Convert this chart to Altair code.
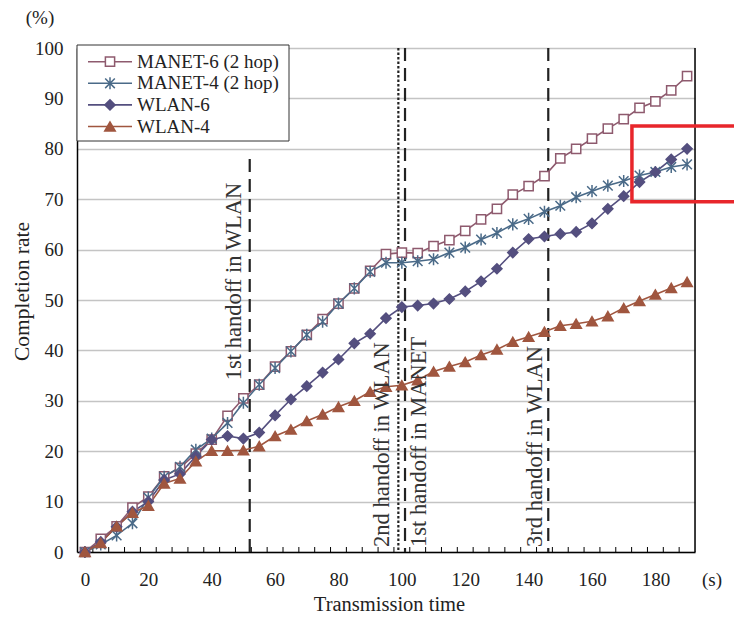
import altair as alt
import pandas as pd

# ---------------- data ----------------
times = [0, 5, 10, 15, 20, 25, 30, 35, 40, 45, 50, 55, 60, 65, 70, 75, 80, 85, 90, 95,
         100, 105, 110, 115, 120, 125, 130, 135, 140, 145, 150, 155, 160, 165, 170, 175,
         180, 185, 190]
series_names = ["MANET-6 (2 hop)", "MANET-4 (2 hop)", "WLAN-6", "WLAN-4"]
manet6 = [0, 2.6, 5.1, 8.8, 11.0, 15.0, 16.7, 19.5, 22.3, 27.0, 30.5, 33.2, 36.8, 39.8,
          43.1, 46.2, 49.3, 52.3, 55.8, 59.1, 59.4, 59.3, 60.7, 61.9, 63.7, 66.0, 68.1,
          70.9, 72.6, 74.6, 78.1, 80.0, 82.0, 84.0, 85.9, 88.1, 89.4, 91.6, 94.4]
manet4 = [0, 1.5, 3.3, 5.7, 10.8, 14.9, 16.9, 20.3, 22.5, 25.6, 29.6, 33.2, 36.5, 39.8,
          43.1, 45.7, 49.3, 52.3, 55.6, 57.4, 57.4, 57.7, 58.1, 59.4, 60.4, 62.0, 63.3,
          65.0, 66.1, 67.5, 68.7, 70.4, 71.6, 72.7, 73.6, 74.7, 75.4, 76.4, 76.9]
wlan6 = [0, 2.0, 5.0, 8.0, 10.0, 14.3, 15.5, 19.0, 22.3, 23.0, 22.5, 23.7, 27.1, 30.3,
         32.9, 35.6, 38.2, 41.4, 43.3, 46.4, 48.6, 48.9, 49.3, 50.2, 51.7, 53.7, 56.2,
         59.4, 62.1, 62.6, 63.1, 63.5, 65.2, 68.1, 70.6, 73.4, 75.4, 77.9, 80.0]
wlan4 = [0, 1.8, 5.1, 7.8, 9.2, 13.6, 14.6, 18.0, 20.1, 20.1, 20.2, 21.0, 23.0, 24.3,
         26.0, 27.3, 28.8, 30.0, 31.8, 32.8, 33.1, 34.1, 35.8, 36.8, 37.7, 39.1, 40.2,
         41.7, 42.7, 43.7, 44.9, 45.3, 45.8, 46.8, 48.4, 49.8, 51.1, 52.4, 53.6]

handoff_labels = ["1st handoff in WLAN", "2nd handoff  in WLAN", "1st handoff in MANET",
                  "3rd handoff in WLAN"]
handoff_x = [52.0, 98.9, 101.0, 146.2]
handoff_top = [78, 100, 100, 100]
handoff_style = ["dash", "dot", "dash", "dash"]
label_x = [47.1, 93.8, 105.5, 142.0]
label_y = [34.1, 1.0, 1.0, 1.0]

x_label_values = [0, 20, 40, 60, 80, 100, 120, 140, 160, 180]
y_label_values = [0, 10, 20, 30, 40, 50, 60, 70, 80, 90, 100]
minor_ticks = [2.5, 7.5, 12.5, 17.5, 22.5, 27.5, 32.5, 37.5, 42.5, 47.5, 52.5, 57.5,
               62.5, 67.5, 72.5, 77.5, 82.5, 87.5, 92.5, 97.5, 102.5, 107.5, 112.5,
               117.5, 122.5, 127.5, 132.5, 137.5, 142.5, 147.5, 152.5, 157.5, 162.5,
               167.5, 172.5, 177.5, 182.5, 187.5]

# highlight box (x from, x to, y from, y to)
box_x = [172.6, 215.0]
box_y = [69.5, 84.5]

# ---------------- styling ----------------
FONT = "Liberation Serif"
TXT = "#222222"
colors = ["#8E5A6E", "#4A6A88", "#544F7F", "#A0563F"]
fills = ["white", "transparent", "#544F7F", "#A0563F"]
STAR = "M-1,-1L1,1M-1,1L1,-1M0,-1.25V1.25"
shapes = ["square", STAR, "diamond", "triangle-up"]
sizes = [85, 110, 120, 130]

rows = []
for name, vals in zip(series_names, [manet6, manet4, wlan6, wlan4]):
    for t, v in zip(times, vals):
        rows.append({"series": name, "time": t, "value": v})
df = pd.DataFrame(rows)

hdf = pd.DataFrame({"x": handoff_x, "top": handoff_top, "bottom": [0] * 4,
                    "style": handoff_style, "label": handoff_labels,
                    "lx": label_x, "ly": label_y})
tdf = pd.DataFrame({"t": minor_ticks})
bdf = pd.DataFrame({"x1": [box_x[0]], "x2": [box_x[1]], "y1": [box_y[0]], "y2": [box_y[1]]})
ldf = pd.DataFrame({"series": series_names, "idx": list(range(len(series_names)))})

xscale = alt.Scale(domain=[-2.5, 192.5], nice=False, zero=False)
yscale = alt.Scale(domain=[0, 100], nice=False)
cscale = alt.Scale(domain=series_names, range=colors)
shscale = alt.Scale(domain=series_names, range=shapes)
fscale = alt.Scale(domain=series_names, range=fills)
szscale = alt.Scale(domain=series_names, range=sizes)

x_axis = alt.Axis(values=x_label_values, grid=False, ticks=False, tickSize=0,
                  domainColor="black", domainWidth=1.5, labelFont=FONT, labelFontSize=19,
                  labelColor=TXT, labelPadding=18, labelFlush=False, labelOverlap=False,
                  title="Transmission time", titleFont=FONT, titleFontSize=20.5,
                  titleFontWeight="normal", titleColor=TXT, titleX=312, titleY=52,
                  titleAlign="center", titleBaseline="middle")
y_axis = alt.Axis(values=y_label_values, grid=True, gridColor="#C4C4C4", gridWidth=1.5,
                  ticks=False, tickSize=0, domainColor="black", domainWidth=1.5,
                  labelFont=FONT, labelFontSize=19, labelColor=TXT, labelPadding=14,
                  labelFlush=False, labelOverlap=False,
                  title="Completion rate", titleFont=FONT, titleFontSize=21.5,
                  titleFontWeight="normal", titleColor=TXT, titleAngle=270,
                  titleX=-55, titleY=243, titleAlign="center", titleBaseline="middle")

base = alt.Chart(df)

lines = base.mark_line(strokeWidth=1.6).encode(
    x=alt.X("time:Q", scale=xscale, axis=x_axis),
    y=alt.Y("value:Q", scale=yscale, axis=y_axis),
    color=alt.Color("series:N", scale=cscale, legend=None),
    detail="series:N",
)

points = base.mark_point(strokeWidth=1.5, opacity=1).encode(
    x=alt.X("time:Q", scale=xscale),
    y=alt.Y("value:Q", scale=yscale),
    shape=alt.Shape("series:N", scale=shscale, legend=None),
    fill=alt.Fill("series:N", scale=fscale, legend=None),
    stroke=alt.Stroke("series:N", scale=cscale, legend=None),
    size=alt.Size("series:N", scale=szscale, legend=None),
)

handoff = alt.Chart(hdf).mark_rule(color="#222222", strokeWidth=2.2).encode(
    x=alt.X("x:Q", scale=xscale),
    y=alt.Y("top:Q", scale=yscale),
    y2="bottom:Q",
    strokeDash=alt.StrokeDash("style:N", scale=alt.Scale(domain=["dash", "dot"],
                                                         range=[[13, 7], [2.5, 2]]), legend=None),
)

handoff_text = alt.Chart(hdf).mark_text(angle=270, align="left", baseline="middle",
                                        font=FONT, fontSize=22.5, color="#333333").encode(
    x=alt.X("lx:Q", scale=xscale),
    y=alt.Y("ly:Q", scale=yscale),
    text="label:N",
)

ticks = alt.Chart(tdf).mark_rule(color="black", strokeWidth=1).encode(
    x=alt.X("t:Q", scale=xscale),
    y=alt.value(504),
    y2=alt.value(499),
)

right_border = alt.Chart(bdf).mark_rule(color="black", strokeWidth=1.5).encode(
    x=alt.value(618), y=alt.value(0), y2=alt.value(504)
)

red_box = alt.Chart(bdf).mark_rect(fill="transparent", stroke="#E8262B", strokeWidth=3.5).encode(
    x=alt.X("x1:Q", scale=xscale), x2="x2:Q",
    y=alt.Y("y1:Q", scale=yscale), y2="y2:Q",
)

units_y = alt.Chart(bdf).mark_text(text="(%)", font=FONT, fontSize=19, color=TXT,
                                   align="center", baseline="middle").encode(
    x=alt.value(-37), y=alt.value(-30))
units_x = alt.Chart(bdf).mark_text(text="(s)", font=FONT, fontSize=19, color=TXT,
                                   align="center", baseline="middle").encode(
    x=alt.value(635), y=alt.value(532))

# ---------------- legend (line + marker + label per series) ----------------
leg = alt.Chart(ldf).transform_calculate(ly="13.7 + 21.6 * datum.idx")
leg_box = alt.Chart(bdf).mark_rect(fill="white", stroke="#333333", strokeWidth=1).encode(
    x=alt.value(0), x2=alt.value(212), y=alt.value(-3), y2=alt.value(93))
leg_lines = leg.mark_rule(strokeWidth=1.6).encode(
    x=alt.value(11), x2=alt.value(55),
    y=alt.Y("ly:Q", scale=None),
    color=alt.Color("series:N", scale=cscale, legend=None),
)
leg_points = leg.mark_point(strokeWidth=1.5, opacity=1).encode(
    x=alt.value(33),
    y=alt.Y("ly:Q", scale=None),
    shape=alt.Shape("series:N", scale=shscale, legend=None),
    fill=alt.Fill("series:N", scale=fscale, legend=None),
    stroke=alt.Stroke("series:N", scale=cscale, legend=None),
    size=alt.Size("series:N", scale=szscale, legend=None),
)
leg_text = leg.mark_text(align="left", baseline="middle", font=FONT, fontSize=19,
                         color=TXT).encode(
    x=alt.value(60),
    y=alt.Y("ly:Q", scale=None),
    text="series:N",
)

chart = alt.layer(
    handoff, ticks, lines, points, handoff_text, right_border, red_box, units_y, units_x,
    leg_box, leg_lines, leg_points, leg_text
).properties(
    width=618, height=504,
    autosize=alt.AutoSizeParams(type="none"),
    padding={"left": 69, "top": 40, "right": 39, "bottom": 63},
).configure_view(stroke=None).configure(background="white")

chart.save("out.html", embed_options={"renderer": "svg", "actions": False})
